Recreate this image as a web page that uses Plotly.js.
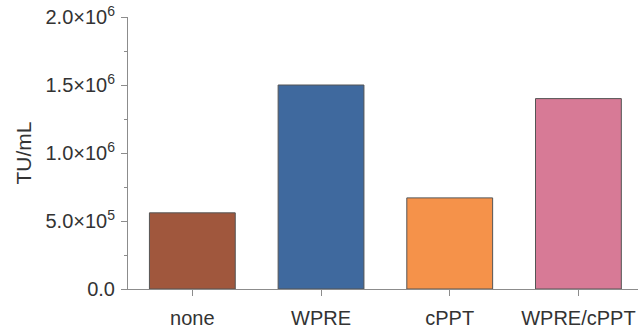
<!DOCTYPE html>
<html>
<head>
<meta charset="utf-8">
<script src="https://cdn.plot.ly/plotly-3.0.1.min.js"></script>
<style>
  html, body { margin: 0; padding: 0; background: #fff; }
  #chart { width: 638px; height: 335px; }
</style>
</head>
<body>
<div id="chart"></div>
<script>
// Transducing units per mL for each vector element
const categories = ["none", "WPRE", "cPPT", "WPRE/cPPT"];
const titers = [560000, 1500000, 670000, 1400000];
const barColors = ["#A0573D", "#3F699E", "#F5924A", "#D77A96"];

const yTickVals = [0, 500000, 1000000, 1500000, 2000000];
const yTickText = ["0.0", "5.0×10<sup>5</sup>", "1.0×10<sup>6</sup>", "1.5×10<sup>6</sup>", "2.0×10<sup>6</sup>"];

const font = "Liberation Sans, Arial, sans-serif";
const axisGray = "#8c8c8c";

const trace = {
  type: "bar",
  x: categories,
  y: titers,
  width: 0.667,
  marker: { color: barColors, line: { color: "#555555", width: 1 } },
  hoverinfo: "x+y"
};

const layout = {
  width: 638,
  height: 335,
  margin: { l: 128, r: 0, t: 17, b: 46 },
  paper_bgcolor: "#ffffff",
  plot_bgcolor: "#ffffff",
  showlegend: false,
  font: { family: font, color: "#333333" },
  xaxis: {
    type: "category",
    range: [-0.5, 3.463],
    showline: true,
    linecolor: axisGray,
    linewidth: 1,
    ticks: "outside",
    ticklen: 6,
    tickcolor: axisGray,
    ticklabelstandoff: 5,
    tickfont: { family: font, size: 20, color: "#333333" },
    showgrid: false,
    zeroline: false
  },
  yaxis: {
    range: [0, 2000000],
    tickvals: yTickVals,
    ticktext: yTickText,
    showline: true,
    linecolor: axisGray,
    linewidth: 1,
    ticks: "outside",
    ticklen: 6,
    tickcolor: axisGray,
    ticklabelstandoff: 2,
    minor: { dtick: 250000, ticks: "outside", ticklen: 3, tickcolor: axisGray, showgrid: false },
    tickfont: { family: font, size: 20, color: "#333333" },
    showgrid: false,
    zeroline: false,
    title: { text: "TU/mL", font: { family: font, size: 21, color: "#333333" }, standoff: 8 }
  }
};

Plotly.newPlot("chart", [trace], layout, { displayModeBar: false, staticPlot: true });
</script>
</body>
</html>
